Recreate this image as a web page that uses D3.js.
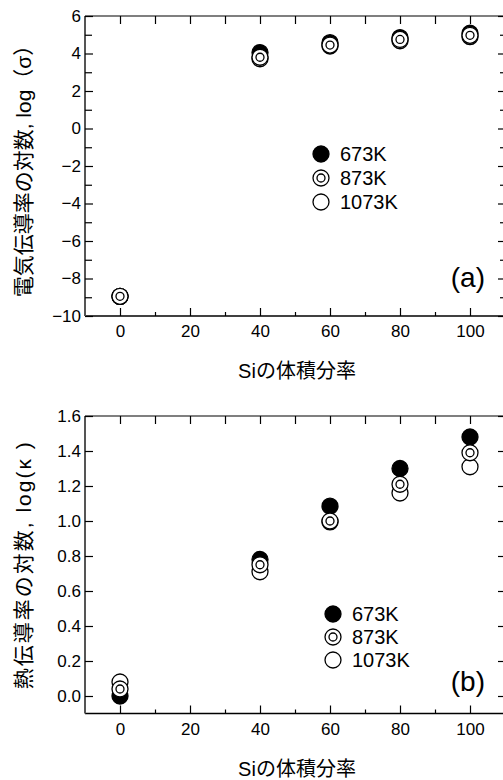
<!DOCTYPE html>
<html>
<head>
<meta charset="utf-8">
<script src="https://cdn.jsdelivr.net/npm/d3@7"></script>
<style>
  html, body { margin: 0; padding: 0; background: #fff; }
  svg { display: block; }
  text { font-family: "Liberation Sans", Arial, "Noto Sans CJK JP", sans-serif; fill: #000; }
</style>
</head>
<body>
<svg id="chart" width="503" height="780"></svg>
<script>
// Si volume fraction (%) on the horizontal axis of both panels
const siFraction = [0, 40, 60, 80, 100];
const xTickLabels = [0, 20, 40, 60, 80, 100];

// Measurement temperatures
const tempLabels = ["673K", "873K", "1073K"];

// (a) log of electrical conductivity, log(σ)
const logSigma673 = [-8.95, 4.05, 4.58, 4.85, 5.08];
const logSigma873 = [-8.95, 3.80, 4.45, 4.75, 4.97];
const logSigma1073 = [-8.95, 3.72, 4.40, 4.68, 4.90];
const sigmaTickLabels = [-10, -8, -6, -4, -2, 0, 2, 4, 6];

// (b) log of thermal conductivity, log(κ)
const logKappa673 = [0.00, 0.78, 1.085, 1.30, 1.48];
const logKappa873 = [0.04, 0.75, 1.00, 1.21, 1.39];
const logKappa1073 = [0.08, 0.71, 0.995, 1.16, 1.31];
const kappaTickLabels = [0.0, 0.2, 0.4, 0.6, 0.8, 1.0, 1.2, 1.4, 1.6];

const svg = d3.select("#chart");
const markerStyles = ["filled", "target", "open"];   // 673K, 873K, 1073K
const drawOrder = [0, 2, 1];                        // bullseye drawn on top

function drawMarker(g, style, cx, cy, r) {
  if (style === "filled") {
    g.append("circle").attr("cx", cx).attr("cy", cy).attr("r", r)
      .attr("fill", "#000").attr("stroke", "#000").attr("stroke-width", 1.3);
  } else {
    g.append("circle").attr("cx", cx).attr("cy", cy).attr("r", r)
      .attr("fill", "#fff").attr("stroke", "#000").attr("stroke-width", 1.3);
    if (style === "target") {
      g.append("circle").attr("cx", cx).attr("cy", cy).attr("r", r * 0.5)
        .attr("fill", "none").attr("stroke", "#000").attr("stroke-width", 1.3);
    }
  }
}

function drawPanel(p) {
  const x = d3.scaleLinear().domain([-10, 110]).range([85, 505]);
  const y = d3.scaleLinear().domain(p.yDomain).range([p.bottom, p.top]);
  const g = svg.append("g");
  const fmt = p.format;

  // frame
  g.append("line").attr("x1", 85).attr("x2", 505).attr("y1", p.top).attr("y2", p.top)
    .attr("stroke", "#000").attr("stroke-width", 1.2);
  g.append("line").attr("x1", 85).attr("x2", 505).attr("y1", p.bottom).attr("y2", p.bottom)
    .attr("stroke", "#000").attr("stroke-width", 1.5);
  g.append("line").attr("x1", 85).attr("x2", 85).attr("y1", p.top).attr("y2", p.bottom)
    .attr("stroke", "#555").attr("stroke-width", 2);

  // bottom axis: labelled ticks and minor ticks
  const minorX = d3.range(10, 100, 20);
  g.append("g").attr("transform", `translate(0,${p.bottom})`)
    .call(d3.axisBottom(x).tickValues(xTickLabels).tickSize(-8).tickPadding(9).tickFormat(d3.format("d")));
  g.append("g").attr("transform", `translate(0,${p.bottom})`)
    .call(d3.axisBottom(x).tickValues(minorX).tickSize(-4).tickFormat(""));
  // top axis
  g.append("g").attr("transform", `translate(0,${p.top})`)
    .call(d3.axisTop(x).tickValues(d3.range(0, 101, 10)).tickSize(-8).tickFormat(""));

  // left axis
  g.append("g").attr("transform", "translate(85,0)")
    .call(d3.axisLeft(y).tickValues(p.yTicks).tickSize(-8).tickPadding(4).tickFormat(fmt));
  if (p.yMinor.length) {
    g.append("g").attr("transform", "translate(85,0)")
      .call(d3.axisLeft(y).tickValues(p.yMinor).tickSize(-7).tickFormat(""));
  }
  // right axis
  g.append("g").attr("transform", "translate(505,0)")
    .call(d3.axisRight(y).tickValues(p.yTicks).tickSize(-7).tickFormat(""));
  if (p.yMinor.length) {
    g.append("g").attr("transform", "translate(505,0)")
      .call(d3.axisRight(y).tickValues(p.yMinor).tickSize(-5).tickFormat(""));
  }

  g.selectAll(".domain").remove();
  g.selectAll(".tick line").attr("stroke", "#000").attr("stroke-width", 1.2);
  g.selectAll(".tick text").attr("font-size", 17)
    .style("font-family", '"Liberation Sans", Arial, sans-serif');

  // axis titles
  g.append("text").attr("x", 297).attr("y", p.bottom + 62)
    .attr("text-anchor", "middle").attr("font-size", 20).text("Siの体積分率");
  g.append("text")
    .attr("transform", `translate(23,${(p.top + p.bottom) / 2}) rotate(-90)`)
    .attr("text-anchor", "middle").attr("dy", "0.36em").attr("font-size", 21)
    .attr("letter-spacing", p.yTitleSpacing)
    .text(p.yTitle);

  // panel tag
  g.append("text").attr("x", 485).attr("y", p.tagY).attr("text-anchor", "end")
    .attr("font-size", 28).text(p.tag);

  // data points
  const dots = g.append("g");
  drawOrder.forEach(i => {
    p.series[i].forEach((v, j) => {
      drawMarker(dots, markerStyles[i], x(siFraction[j]), y(v), 8);
    });
  });

  // legend
  const lg = g.append("g");
  tempLabels.forEach((t, i) => {
    const cy = p.legendY + i * p.legendStep;
    drawMarker(lg, markerStyles[i], p.legendX, cy, 8);
    lg.append("text").attr("x", p.legendX + 19).attr("y", cy + 7)
      .attr("font-size", 20).text(t);
  });
}

drawPanel({
  top: 16, bottom: 316, yDomain: [-10, 6],
  yTicks: sigmaTickLabels, yMinor: d3.range(-9, 6, 2),
  format: d3.format("d"),
  series: [logSigma673, logSigma873, logSigma1073],
  yTitle: "電気伝導率の対数, log（σ）", yTitleSpacing: 0,
  tag: "(a)", tagY: 287,
  legendX: 321, legendY: 154, legendStep: 24
});

drawPanel({
  top: 416, bottom: 713.5, yDomain: [-0.1, 1.6],
  yTicks: kappaTickLabels, yMinor: [],
  format: d3.format(".1f"),
  series: [logKappa673, logKappa873, logKappa1073],
  yTitle: "熱伝導率の対数, log(κ )", yTitleSpacing: 2,
  tag: "(b)", tagY: 691,
  legendX: 333, legendY: 614, legendStep: 23
});
</script>
</body>
</html>
